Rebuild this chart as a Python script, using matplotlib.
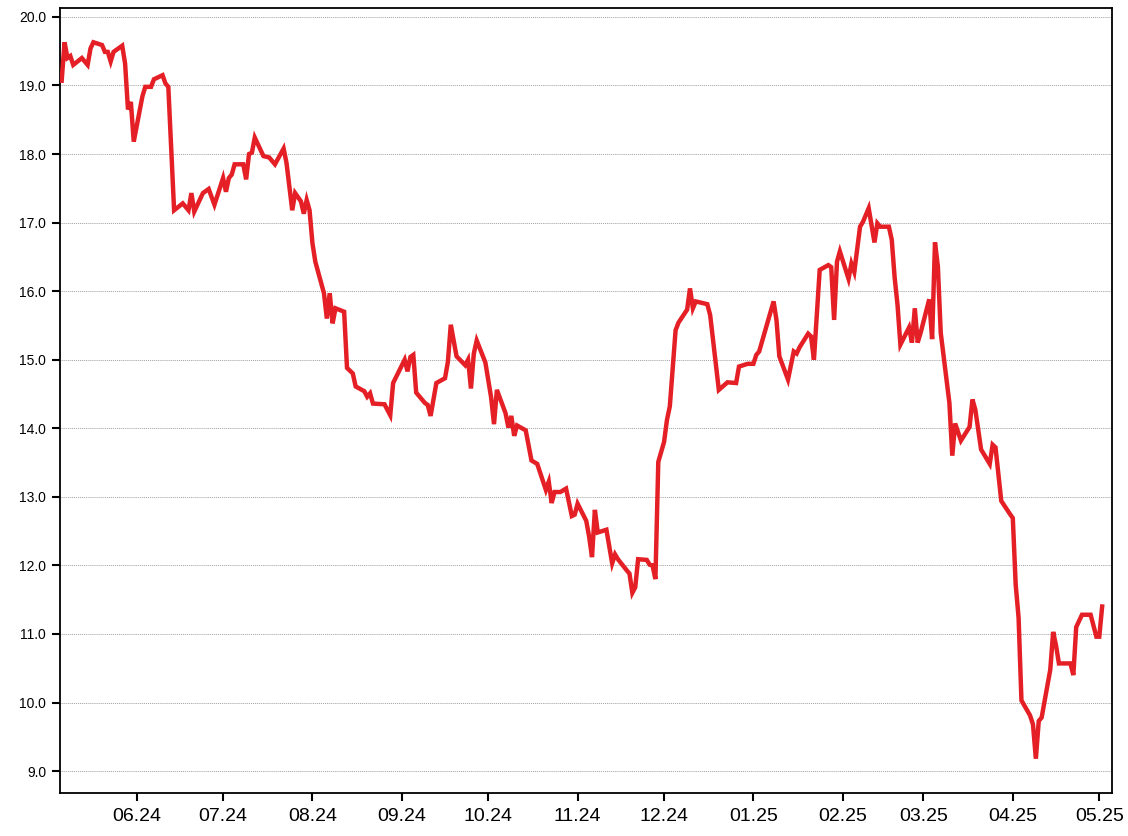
import numpy as np
import pandas as pd
import matplotlib
matplotlib.use("Agg")
import matplotlib.pyplot as plt
import matplotlib.dates as mdates

# data
dates = [
    "2024-05-06", "2024-05-07", "2024-05-08", "2024-05-09", "2024-05-10", "2024-05-13", "2024-05-15",
    "2024-05-16", "2024-05-17", "2024-05-20", "2024-05-21", "2024-05-22", "2024-05-23", "2024-05-24",
    "2024-05-27", "2024-05-28", "2024-05-29", "2024-05-30", "2024-05-31", "2024-06-03", "2024-06-04",
    "2024-06-06", "2024-06-07", "2024-06-10", "2024-06-11", "2024-06-12", "2024-06-14", "2024-06-17",
    "2024-06-19", "2024-06-20", "2024-06-21", "2024-06-24", "2024-06-26", "2024-06-28", "2024-07-01",
    "2024-07-02", "2024-07-03", "2024-07-04", "2024-07-05", "2024-07-08", "2024-07-09", "2024-07-10",
    "2024-07-11", "2024-07-12", "2024-07-15", "2024-07-17", "2024-07-19", "2024-07-22", "2024-07-23",
    "2024-07-25", "2024-07-26", "2024-07-28", "2024-07-29", "2024-07-30", "2024-07-31", "2024-08-01",
    "2024-08-02", "2024-08-05", "2024-08-06", "2024-08-07", "2024-08-08", "2024-08-09", "2024-08-12",
    "2024-08-13", "2024-08-15", "2024-08-16", "2024-08-19", "2024-08-20", "2024-08-21", "2024-08-22",
    "2024-08-26", "2024-08-28", "2024-08-29", "2024-09-02", "2024-09-03", "2024-09-04", "2024-09-05",
    "2024-09-06", "2024-09-09", "2024-09-10", "2024-09-11", "2024-09-13", "2024-09-16", "2024-09-17",
    "2024-09-18", "2024-09-20", "2024-09-23", "2024-09-24", "2024-09-25", "2024-09-26", "2024-09-27",
    "2024-09-30", "2024-10-02", "2024-10-03", "2024-10-04", "2024-10-07", "2024-10-08", "2024-10-09",
    "2024-10-10", "2024-10-11", "2024-10-14", "2024-10-16", "2024-10-18", "2024-10-21", "2024-10-22",
    "2024-10-23", "2024-10-24", "2024-10-26", "2024-10-28", "2024-10-30", "2024-10-31", "2024-11-01",
    "2024-11-04", "2024-11-05", "2024-11-06", "2024-11-07", "2024-11-08", "2024-11-11", "2024-11-13",
    "2024-11-14", "2024-11-15", "2024-11-18", "2024-11-19", "2024-11-20", "2024-11-21", "2024-11-22",
    "2024-11-25", "2024-11-26", "2024-11-27", "2024-11-28", "2024-11-29", "2024-12-01", "2024-12-02",
    "2024-12-03", "2024-12-05", "2024-12-06", "2024-12-09", "2024-12-10", "2024-12-11", "2024-12-12",
    "2024-12-14", "2024-12-16", "2024-12-17", "2024-12-20", "2024-12-23", "2024-12-26", "2024-12-27",
    "2024-12-30", "2025-01-01", "2025-01-02", "2025-01-03", "2025-01-08", "2025-01-09", "2025-01-10",
    "2025-01-13", "2025-01-15", "2025-01-16", "2025-01-17", "2025-01-20", "2025-01-21", "2025-01-22",
    "2025-01-24", "2025-01-27", "2025-01-28", "2025-01-29", "2025-01-30", "2025-01-31", "2025-02-03",
    "2025-02-04", "2025-02-05", "2025-02-07", "2025-02-08", "2025-02-10", "2025-02-12", "2025-02-13",
    "2025-02-14", "2025-02-17", "2025-02-18", "2025-02-19", "2025-02-20", "2025-02-21", "2025-02-24",
    "2025-02-25", "2025-02-26", "2025-02-27", "2025-02-28", "2025-03-03", "2025-03-04", "2025-03-05",
    "2025-03-06", "2025-03-07", "2025-03-10", "2025-03-11", "2025-03-12", "2025-03-14", "2025-03-17",
    "2025-03-18", "2025-03-19", "2025-03-21", "2025-03-24", "2025-03-25", "2025-03-26", "2025-03-28",
    "2025-03-31", "2025-04-01", "2025-04-02", "2025-04-03", "2025-04-04", "2025-04-07", "2025-04-08",
    "2025-04-09", "2025-04-10", "2025-04-11", "2025-04-14", "2025-04-15", "2025-04-16", "2025-04-17",
    "2025-04-21", "2025-04-22", "2025-04-23", "2025-04-25", "2025-04-28", "2025-04-30", "2025-05-01",
    "2025-05-02",
]
prices = [
    19.07, 19.63, 19.40, 19.43, 19.30, 19.40, 19.30,
    19.54, 19.63, 19.59, 19.49, 19.49, 19.35, 19.49,
    19.58, 19.32, 18.65, 18.76, 18.18, 18.84, 18.98,
    18.98, 19.09, 19.15, 19.03, 18.98, 17.18, 17.28,
    17.18, 17.43, 17.16, 17.43, 17.49, 17.26, 17.65,
    17.45, 17.65, 17.70, 17.85, 17.85, 17.63, 18.00,
    18.02, 18.24, 17.97, 17.95, 17.85, 18.08, 17.87,
    17.18, 17.43, 17.31, 17.13, 17.33, 17.18, 16.70,
    16.43, 15.97, 15.60, 15.97, 15.53, 15.75, 15.70,
    14.88, 14.80, 14.61, 14.54, 14.46, 14.51, 14.36,
    14.35, 14.19, 14.66, 15.00, 14.83, 15.04, 15.07,
    14.52, 14.37, 14.34, 14.18, 14.66, 14.73, 14.97,
    15.51, 15.05, 14.92, 15.00, 14.58, 15.09, 15.28,
    14.96, 14.45, 14.06, 14.56, 14.22, 14.01, 14.18,
    13.89, 14.04, 13.97, 13.53, 13.48, 13.10, 13.22,
    12.91, 13.07, 13.07, 13.12, 12.72, 12.74, 12.90,
    12.65, 12.42, 12.12, 12.81, 12.48, 12.52, 12.03,
    12.16, 12.09, 11.93, 11.88, 11.60, 11.68, 12.09,
    12.08, 12.01, 12.00, 11.80, 13.51, 13.80, 14.12,
    14.32, 15.43, 15.54, 15.73, 16.04, 15.75, 15.85,
    15.83, 15.81, 15.65, 14.56, 14.67, 14.66, 14.90,
    14.94, 14.94, 15.07, 15.12, 15.85, 15.58, 15.05,
    14.71, 15.12, 15.09, 15.18, 15.38, 15.34, 15.00,
    16.31, 16.38, 16.35, 15.58, 16.43, 16.58, 16.18,
    16.40, 16.28, 16.94, 17.01, 17.21, 16.71, 16.99,
    16.94, 16.94, 16.75, 16.20, 15.80, 15.22, 15.47,
    15.25, 15.75, 15.25, 15.39, 15.88, 15.30, 16.71,
    16.36, 15.39, 14.37, 13.60, 14.07, 13.82, 14.02,
    14.42, 14.27, 13.69, 13.48, 13.76, 13.72, 12.94,
    12.75, 12.69, 11.72, 11.24, 10.03, 9.81, 9.68,
    9.18, 9.73, 9.78, 10.48, 11.03, 10.83, 10.57,
    10.57, 10.40, 11.10, 11.28, 11.28, 10.96, 10.96,
    11.40,
]
y_ticks = [9.0, 10.0, 11.0, 12.0, 13.0, 14.0, 15.0, 16.0, 17.0, 18.0, 19.0, 20.0]

x = pd.to_datetime(dates)

plt.rcParams['font.family'] = ['Liberation Sans', 'DejaVu Sans']

fig = plt.figure(figsize=(11.28, 8.36), dpi=100)
ax = fig.add_axes([60 / 1128, 1 - 793 / 836, (1112 - 60) / 1128, (793 - 8) / 836])

ax.plot(x, prices, color="#e41f25", lw=3.2, solid_joinstyle="miter", zorder=3)

ax.set_xlim(pd.Timestamp("2024-05-05 10:00"), pd.Timestamp("2025-05-05 10:00"))
ax.set_ylim(8.68, 20.13)

ax.set_yticks(y_ticks)
ax.yaxis.set_major_formatter(matplotlib.ticker.FormatStrFormatter("%.1f"))
ax.xaxis.set_major_locator(mdates.MonthLocator())
ax.xaxis.set_major_formatter(mdates.DateFormatter("%m.%y"))

ax.grid(axis="y", color="#a0a0a0", linestyle=(0, (1, 1)), lw=0.7, zorder=1)
ax.tick_params(axis="y", labelsize=10, length=6, width=1.5, pad=4, direction="out")
ax.tick_params(axis="x", labelsize=14, length=6, width=1.5, pad=5, direction="out")
for sp in ax.spines.values():
    sp.set_linewidth(1.3)
    sp.set_color("black")

fig.savefig("out.png", dpi=100)
